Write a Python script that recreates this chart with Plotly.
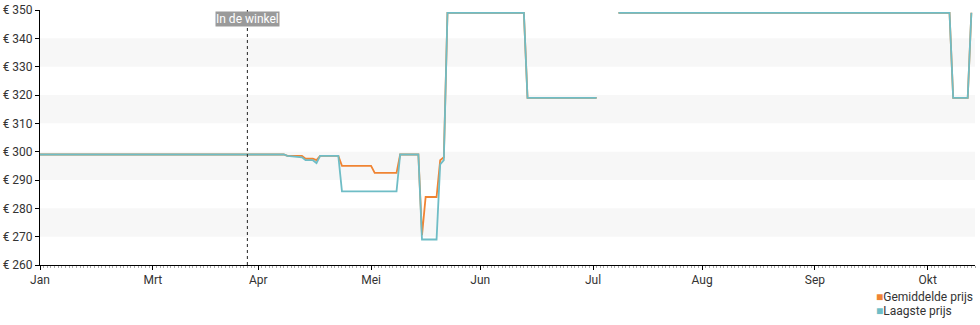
import plotly.graph_objects as go

# ---- data ----
dates_avg = ["2024-01-01", "2024-03-08", "2024-03-09", "2024-03-13", "2024-03-14", "2024-03-16",
             "2024-03-17", "2024-03-18", "2024-03-23", "2024-03-24", "2024-04-01", "2024-04-02",
             "2024-04-08", "2024-04-09", "2024-04-14", "2024-04-15", "2024-04-16", "2024-04-19",
             "2024-04-20", "2024-04-21", "2024-04-22", "2024-05-13", "2024-05-14",
             "2024-06-02", "2024-06-05", "2024-06-08", "2024-09-07", "2024-09-08", "2024-09-12",
             "2024-09-13"]
avg_price = [299, 299, 298.5, 298.5, 297.5, 297.5,
             297, 298.5, 298.5, 295, 295, 292.5,
             292.5, 299, 299, 270.5, 284, 284,
             297, 298, 349, 349, 319,
             319, None, 349, 349, 319, 319,
             349]

dates_low = ["2024-01-01", "2024-03-08", "2024-03-09", "2024-03-13", "2024-03-14", "2024-03-16",
             "2024-03-17", "2024-03-18", "2024-03-23", "2024-03-24", "2024-04-08", "2024-04-09",
             "2024-04-14", "2024-04-15", "2024-04-19", "2024-04-20", "2024-04-21", "2024-04-22",
             "2024-05-13", "2024-05-14", "2024-06-02", "2024-06-05", "2024-06-08", "2024-09-07",
             "2024-09-08", "2024-09-12", "2024-09-13"]
low_price = [299, 299, 298.5, 298, 297, 297,
             296, 298.5, 298.5, 286, 286, 299,
             299, 269, 269, 295.5, 297, 349,
             349, 319, 319, None, 349, 349,
             319, 319, 349]

tick_dates = ["2024-01-01", "2024-02-01", "2024-03-01", "2024-04-01", "2024-05-01",
              "2024-06-01", "2024-07-01", "2024-08-01", "2024-09-01"]
tick_labels = ["Jan", "Mrt", "Apr", "Mei", "Jun", "Jul", "Aug", "Sep", "Okt"]

y_ticks = [260, 270, 280, 290, 300, 310, 320, 330, 340, 350]
bands = [(270, 280), (290, 300), (310, 320), (330, 340)]

store_date = "2024-02-27"
store_label = "In de winkel"

series_names = ["Gemiddelde prijs", "Laagste prijs"]
colors = ["#f08433", "#6fbdc6"]

# ---- figure ----
fig = go.Figure()
fig.add_trace(go.Scatter(x=dates_avg, y=avg_price, mode="lines", connectgaps=False,
                         line=dict(color=colors[0], width=1.8), showlegend=False,
                         name=series_names[0]))
fig.add_trace(go.Scatter(x=dates_low, y=low_price, mode="lines", connectgaps=False,
                         line=dict(color=colors[1], width=1.8), showlegend=False,
                         name=series_names[1]))

shapes = []
for lo, hi in bands:
    shapes.append(dict(type="rect", xref="paper", yref="y", x0=0, x1=1, y0=lo, y1=hi,
                       fillcolor="#f7f7f7", line=dict(width=0), layer="below"))
shapes.append(dict(type="line", xref="x", yref="paper", x0=store_date, x1=store_date,
                   y0=0, y1=1, line=dict(color="#222", width=1, dash="dot")))

annotations = [dict(x=store_date, y=0.965, xref="x", yref="paper", text=store_label,
                    xanchor="center", yanchor="middle",
                    showarrow=False, bgcolor="#9a9a9a", font=dict(color="white", size=12),
                    borderpad=0)]
legend_y = [-0.125, -0.18]
for nm, c, ly in zip(series_names, colors, legend_y):
    annotations.append(dict(x=0.892, y=ly, xref="paper", yref="paper", xanchor="left",
                            yanchor="middle", showarrow=False,
                            text=f"<span style='color:{c}'>■</span>{nm}",
                            font=dict(size=12, color="#333")))

fig.update_layout(
    width=980, height=325,
    margin=dict(l=40, r=5, t=10, b=60, autoexpand=False),
    paper_bgcolor="white", plot_bgcolor="white",
    font=dict(family="Roboto", size=12, color="#333"),
    shapes=shapes,
    annotations=annotations,
    showlegend=False,
)
fig.update_xaxes(type="date", range=["2024-01-01", "2024-09-14"],
                 tickvals=tick_dates, ticktext=tick_labels,
                 showgrid=False, zeroline=False, showline=True, linecolor="#000", linewidth=1,
                 ticks="outside", ticklen=4, tickcolor="#000",
                 minor=dict(ticks="outside", ticklen=2, dtick=86400000, tickcolor="#aaa",
                            showgrid=False),
                 tickfont=dict(size=12, color="#333"))
fig.update_yaxes(range=[260, 350], tickvals=y_ticks, ticktext=[f"€ {v}" for v in y_ticks],
                 showgrid=False, zeroline=False, showline=True, linecolor="#000", linewidth=1,
                 ticks="outside", ticklen=4, tickcolor="#000",
                 tickfont=dict(size=12, color="#333"))

fig.write_html("out.html")
